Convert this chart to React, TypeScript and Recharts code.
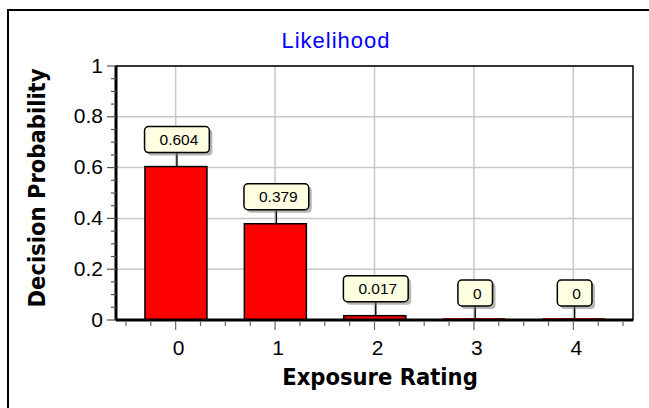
import React from 'react';
import { BarChart, Bar, XAxis, YAxis, CartesianGrid, LabelList, ReferenceArea } from 'recharts';

const categories = [0, 1, 2, 3, 4];
const categoryLabels = ['0', '1', '2', '3', '4'];
const probabilities = [0.604, 0.379, 0.017, 0, 0];
const probabilityLabels = ['0.604', '0.379', '0.017', '0', '0'];
const yMajorTicks = [0, 0.2, 0.4, 0.6, 0.8, 1];
const yTickLabels = ['0', '0.2', '0.4', '0.6', '0.8', '1'];
const yMinorTicks = [0, 0.05, 0.1, 0.15, 0.2, 0.25, 0.3, 0.35, 0.4, 0.45, 0.5, 0.55, 0.6, 0.65, 0.7, 0.75, 0.8, 0.85, 0.9, 0.95, 1];
const xMinorTicks = [-0.5, -0.25, 0, 0.25, 0.5, 0.75, 1, 1.25, 1.5, 1.75, 2, 2.25, 2.5, 2.75, 3, 3.25, 3.5, 3.75, 4, 4.25, 4.5];
const gridY = [0.2, 0.4, 0.6, 0.8, 1];
const xDomain = [-0.6, 4.6];
const yDomain = [0, 1];
const titleText = 'Likelihood';
const xAxisTitle = 'Exposure Rating';
const yAxisTitle = 'Decision Probability';

const data = categories.map((c, i) => ({ rating: c, p: probabilities[i], label: probabilityLabels[i] }));

const ARIAL = "'Liberation Sans', Arial, sans-serif";
const BOLDFONT = "'DejaVu Sans Condensed', 'DejaVu Sans', sans-serif";

const near = (a: number, b: number) => Math.abs(a - b) < 1e-9;

const YTick = (props: any) => {
  const { x, y, payload } = props;
  const v = payload.value;
  const idx = yMajorTicks.findIndex((t) => near(t, v));
  const major = idx >= 0;
  const len = major ? 9 : 5;
  return (
    <g>
      <line x1={x - len} x2={x} y1={y} y2={y} stroke="#555" strokeWidth={1.2} />
      {major && (
        <text x={x - len - 4} y={y + 6.5} textAnchor="end" fontSize={21} fontFamily={ARIAL} fill="#000">
          {yTickLabels[idx]}
        </text>
      )}
    </g>
  );
};

const XTick = (props: any) => {
  const { x, y, payload } = props;
  const v = payload.value;
  const idx = categories.findIndex((t) => near(t, v));
  const major = idx >= 0;
  const len = major ? 9 : 5;
  return (
    <g>
      <line x1={x} x2={x} y1={y + 1} y2={y + 1 + len} stroke="#666" strokeWidth={1.2} />
      {major && (
        <text x={x + 3} y={y + 35} textAnchor="middle" fontSize={21} fontFamily={ARIAL} fill="#000">
          {categoryLabels[idx]}
        </text>
      )}
    </g>
  );
};

const BarShape = (props: any) => {
  const { x, y, width, height } = props;
  if (!(height >= 1)) {
    return <rect x={x} y={y - 2} width={width} height={2} fill="#e00000" />;
  }
  return <rect x={x} y={y} width={width} height={height} fill="#ff0000" stroke="#000" strokeWidth={1.5} />;
};

const textWidth = (s: string, fs: number) => {
  let w = 0;
  for (const ch of s) w += ch === '.' ? 0.278 * fs : 0.556 * fs;
  return w;
};

const BoxLabel = (props: any) => {
  const vb = props.viewBox && typeof props.viewBox.x === 'number' ? props.viewBox : props;
  const { x, y, width } = vb;
  const index = props.index;
  const text = probabilityLabels[index] ?? String(props.value);
  const fs = 15.5;
  const cx = x + width / 2 + 1;
  const boxW = textWidth(text, fs) + 26;
  const boxH = 26;
  const bottom = y - 14;
  const top = bottom - boxH;
  return (
    <g>
      <line x1={cx} x2={cx} y1={bottom} y2={y} stroke="#000" strokeWidth={1.4} />
      <rect x={cx - boxW / 2 + 3} y={top + 3} width={boxW} height={boxH} rx={4} fill="#7a7a7a" opacity={0.55} />
      <rect x={cx - boxW / 2} y={top} width={boxW} height={boxH} rx={4} fill="#ffffe1" stroke="#000" strokeWidth={1.5} />
      <text x={cx + 2} y={top + boxH / 2 + 5.5} textAnchor="middle" fontSize={fs} fontFamily={ARIAL} fill="#000">
        {text}
      </text>
    </g>
  );
};

export default function App() {
  return (
    <div style={{ position: 'fixed', left: 0, top: 0, width: 649, height: 408, overflow: 'hidden', background: '#fff' }}>
      <div
        style={{
          position: 'absolute',
          left: 7,
          top: 9,
          width: 800,
          height: 600,
          borderLeft: '2.5px solid #000',
          borderTop: '2.5px solid #000',
        }}
      />
      <div style={{ position: 'absolute', left: 0, top: 0 }}>
        <BarChart width={649} height={408} data={data} margin={{ top: 66, right: 16, left: 0, bottom: 0 }}>
          <CartesianGrid
            xAxisId="main"
            yAxisId="main"
            horizontalValues={gridY}
            verticalValues={categories}
            stroke="#c8c8c8"
            strokeWidth={1.5}
          />
          <XAxis
            xAxisId="main"
            dataKey="rating"
            type="number"
            domain={xDomain}
            ticks={xMinorTicks}
            interval={0}
            allowDataOverflow
            height={88}
            tickSize={0}
            tickMargin={0}
            tickLine={false}
            tick={<XTick />}
            axisLine={{ stroke: '#000', strokeWidth: 3 }}
          />
          <YAxis
            yAxisId="main"
            type="number"
            domain={yDomain}
            ticks={yMinorTicks}
            interval={0}
            allowDataOverflow
            width={116}
            tickSize={0}
            tickMargin={0}
            tickLine={false}
            tick={<YTick />}
            axisLine={{ stroke: '#000', strokeWidth: 3 }}
          />
          <ReferenceArea
            xAxisId="main"
            yAxisId="main"
            x1={xDomain[0]}
            x2={xDomain[1]}
            y1={yDomain[0]}
            y2={yDomain[1]}
            fill="none"
            fillOpacity={0}
            stroke="#000"
            strokeWidth={1.5}
          />
          <Bar
            xAxisId="main"
            yAxisId="main"
            dataKey="p"
            barSize={62}
            fill="#ff0000"
            stroke="#000"
            shape={<BarShape />}
            isAnimationActive={false}
          >
            <LabelList dataKey="label" content={<BoxLabel />} />
          </Bar>
        </BarChart>
      </div>
      <svg width={649} height={408} style={{ position: 'absolute', left: 0, top: 0, pointerEvents: 'none' }}>
        <text x={336} y={48} textAnchor="middle" fontSize={22} letterSpacing={1} fontFamily={ARIAL} fill="#0000ff">
          {titleText}
        </text>
        <text x={380} y={385} textAnchor="middle" fontSize={23.5} fontWeight="bold" fontFamily={BOLDFONT} fill="#000">
          {xAxisTitle}
        </text>
        <text
          x={0}
          y={0}
          transform="translate(45,188) rotate(-90)"
          textAnchor="middle"
          fontSize={23.5}
          fontWeight="bold"
          fontFamily={BOLDFONT}
          fill="#000"
        >
          {yAxisTitle}
        </text>
      </svg>
    </div>
  );
}
